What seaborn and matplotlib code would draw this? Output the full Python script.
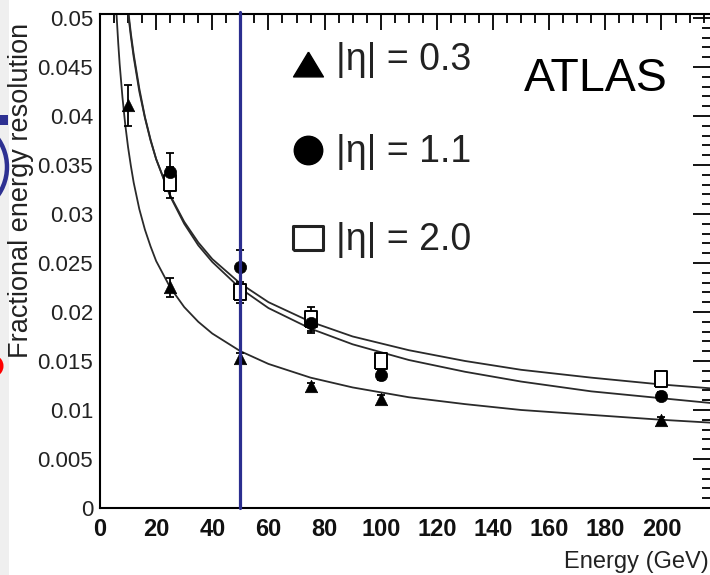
import numpy as np
import pandas as pd
import matplotlib
matplotlib.use("Agg")
import matplotlib.pyplot as plt
import seaborn as sns
from matplotlib.patches import Rectangle, Ellipse
from matplotlib.lines import Line2D
from matplotlib.ticker import MultipleLocator

# ---------------- data ----------------
tri_E = [10, 25, 50, 75, 100, 200]
tri_res = [0.0411, 0.0225, 0.0153, 0.0124, 0.0111, 0.0090]
tri_err = [0.0021, 0.0010, 0.0005, 0.0004, 0.0004, 0.0003]

circ_E = [25, 50, 75, 100, 200]
circ_res = [0.0343, 0.0246, 0.0189, 0.0136, 0.0114]
circ_err = [0.0019, 0.0017, 0.0010, 0.0005, 0.0004]

sq_E = [25, 50, 75, 100, 200]
sq_res = [0.0332, 0.0220, 0.0193, 0.0150, 0.0132]
sq_err = [0.0016, 0.0011, 0.0012, 0.0006, 0.0005]

# fitted curves
tri_fit_E = [5.8, 6.5, 7, 8, 9, 10, 11, 12, 14, 16, 18, 20, 25, 30, 35, 40,
             50, 60, 75, 90, 110, 130, 150, 175, 200, 218]
tri_fit = [0.0508, 0.0474, 0.0453, 0.0419, 0.0391, 0.0368, 0.0349, 0.0332,
           0.0305, 0.0284, 0.0267, 0.0252, 0.0225, 0.0205, 0.0190, 0.0178,
           0.0160, 0.0147, 0.0133, 0.0123, 0.0113, 0.0106, 0.0100, 0.0095,
           0.0090, 0.0087]
up_fit_E = [9.5, 10, 11, 12, 14, 16, 18, 20, 25, 30, 35, 40, 50, 60, 75, 90,
            110, 130, 150, 175, 200, 218]
sq_fit = [0.0518, 0.0505, 0.0481, 0.0460, 0.0425, 0.0398, 0.0375, 0.0356,
          0.0319, 0.0292, 0.0271, 0.0254, 0.0229, 0.0210, 0.0190, 0.0175,
          0.0161, 0.0150, 0.0141, 0.0133, 0.0126, 0.0122]
circ_fit = [0.0523, 0.0509, 0.0484, 0.0463, 0.0428, 0.0399, 0.0376, 0.0356,
            0.0318, 0.0290, 0.0268, 0.0251, 0.0224, 0.0204, 0.0183, 0.0167,
            0.0151, 0.0139, 0.0129, 0.0119, 0.0112, 0.0107]

x_ticks = [0, 20, 40, 60, 80, 100, 120, 140, 160, 180, 200]
x_tick_labels = ["0", "20", "40", "60", "80", "100", "120", "140", "160", "180", "200"]
y_ticks = [0, 0.005, 0.01, 0.015, 0.02, 0.025, 0.03, 0.035, 0.04, 0.045, 0.05]
y_tick_labels = ["0", "0.005", "0.01", "0.015", "0.02", "0.025", "0.03",
                 "0.035", "0.04", "0.045", "0.05"]
legend_labels = ["|η| = 0.3", "|η| = 1.1", "|η| = 2.0"]
marked_energy = 50

# ---------------- style ----------------
sns.set_style("white")
plt.rcParams["font.family"] = ["Liberation Sans", "DejaVu Sans"]

W, H = 710, 575
fig = plt.figure(figsize=(W / 100, H / 100), dpi=100)
fig.patch.set_facecolor("white")


def fx(x):
    return x / W


def fy(y):
    return 1 - y / H


# slide artefacts on the left edge
fig.add_artist(Rectangle((0, 0), fx(9), 1, transform=fig.transFigure,
                         facecolor="#efefef", edgecolor="none", zorder=0))
fig.add_artist(Rectangle((0, fy(125)), fx(8), 10 / H, transform=fig.transFigure,
                         facecolor="#2e3192", edgecolor="none", zorder=1))
fig.add_artist(Ellipse((fx(-42), fy(167)), 2 * 49 / W, 2 * 49 / H,
                       transform=fig.transFigure, facecolor="none",
                       edgecolor="#2e3192", lw=3.2, zorder=1))
fig.add_artist(Ellipse((fx(-6), fy(366)), 2 * 9.5 / W, 2 * 10.5 / H,
                       transform=fig.transFigure, facecolor="#ff0000",
                       edgecolor="none", zorder=1))

ax = fig.add_axes([fx(100), fy(508), (712 - 100) / W, (508 - 14) / H])
ax.set_facecolor("white")

line_col = "#2a2a2a"
sns.lineplot(x=tri_fit_E, y=tri_fit, ax=ax, color=line_col, lw=1.3,
             estimator=None, sort=False, zorder=2)
sns.lineplot(x=up_fit_E, y=sq_fit, ax=ax, color=line_col, lw=1.3,
             estimator=None, sort=False, zorder=2)
sns.lineplot(x=up_fit_E, y=circ_fit, ax=ax, color=line_col, lw=1.3,
             estimator=None, sort=False, zorder=2)

# error bars
for xs, ys, es in [(sq_E, sq_res, sq_err), (circ_E, circ_res, circ_err),
                   (tri_E, tri_res, tri_err)]:
    ax.errorbar(xs, ys, yerr=es, fmt="none", ecolor="black", elinewidth=1.3,
                capsize=3, capthick=1.3, zorder=3)

rect_marker = [(-0.8, -1), (0.8, -1), (0.8, 1), (-0.8, 1), (-0.8, -1)]
sns.scatterplot(x=sq_E, y=sq_res, ax=ax, marker=rect_marker, s=130,
                facecolor="white", edgecolor="black", linewidth=1.4, zorder=4)
sns.scatterplot(x=circ_E, y=circ_res, ax=ax, marker="o", s=78,
                color="black", edgecolor="black", linewidth=0.5, zorder=5)
sns.scatterplot(x=tri_E, y=tri_res, ax=ax, marker="^", s=80,
                color="black", edgecolor="black", linewidth=0.5, zorder=5)

ax.axvline(marked_energy, ymin=0, ymax=1.005, color="#2b2e8f", lw=2.3,
           clip_on=False, zorder=6)

ax.set_xlim(0, 218)
ax.set_ylim(0, 0.0504)
ax.set_xticks(x_ticks)
ax.set_xticklabels(x_tick_labels)
ax.set_yticks(y_ticks)
ax.set_yticklabels(y_tick_labels)
ax.xaxis.set_minor_locator(MultipleLocator(5))
ax.yaxis.set_minor_locator(MultipleLocator(0.001))

for s in ax.spines.values():
    s.set_color("black")
    s.set_linewidth(1.5)

ax.tick_params(axis="both", which="both", direction="in", top=True,
               right=True, color="black", width=1.3)
ax.tick_params(axis="x", which="major", length=11.5, pad=7)
ax.tick_params(axis="x", which="minor", length=6.5)
ax.tick_params(axis="y", which="major", length=13.5, pad=5)
ax.tick_params(axis="y", which="minor", length=7)

for lab in ax.get_yticklabels():
    lab.set_fontsize(16)
    lab.set_color("#222222")
for lab in ax.get_xticklabels():
    lab.set_fontfamily(["Liberation Sans Narrow", "Liberation Sans"])
    lab.set_fontweight("bold")
    lab.set_fontsize(17)
    lab.set_color("#111111")

ax.set_xlabel("")
ax.set_ylabel("")

fig.text(fx(21), fy(190), "Fractional energy resolution", rotation=90,
         ha="center", va="center", fontsize=19.5, color="#222222")
fig.text(fx(709), fy(562), "Energy (GeV)", ha="right", va="center",
         fontsize=17, color="#222222")

# legend (drawn by hand as in the original)
tri_leg = [(0, 0.83), (-1, -0.83), (1, -0.83), (0, 0.83)]
sq_leg = [(-1, -0.83), (1, -0.83), (1, 0.83), (-1, 0.83), (-1, -0.83)]
fig.add_artist(Line2D([fx(308)], [fy(64)], transform=fig.transFigure,
                      marker=tri_leg, ms=21.5, color="black", ls="none"))
fig.add_artist(Line2D([fx(308)], [fy(150)], transform=fig.transFigure,
                      marker="o", ms=20.5, color="black", ls="none"))
fig.add_artist(Line2D([fx(308)], [fy(238)], transform=fig.transFigure,
                      marker=sq_leg, ms=21.5, mfc="white", mec="#222222",
                      mew=2.2, ls="none"))
for lab, yb in zip(legend_labels, [70, 162, 250]):
    fig.text(fx(336), fy(yb), lab, ha="left", va="baseline", fontsize=27,
             color="#222222")

fig.text(fx(524), fy(91), "ATLAS", ha="left", va="baseline", fontsize=33.5,
         color="black")

fig.savefig("out.png", dpi=100, facecolor="white")
